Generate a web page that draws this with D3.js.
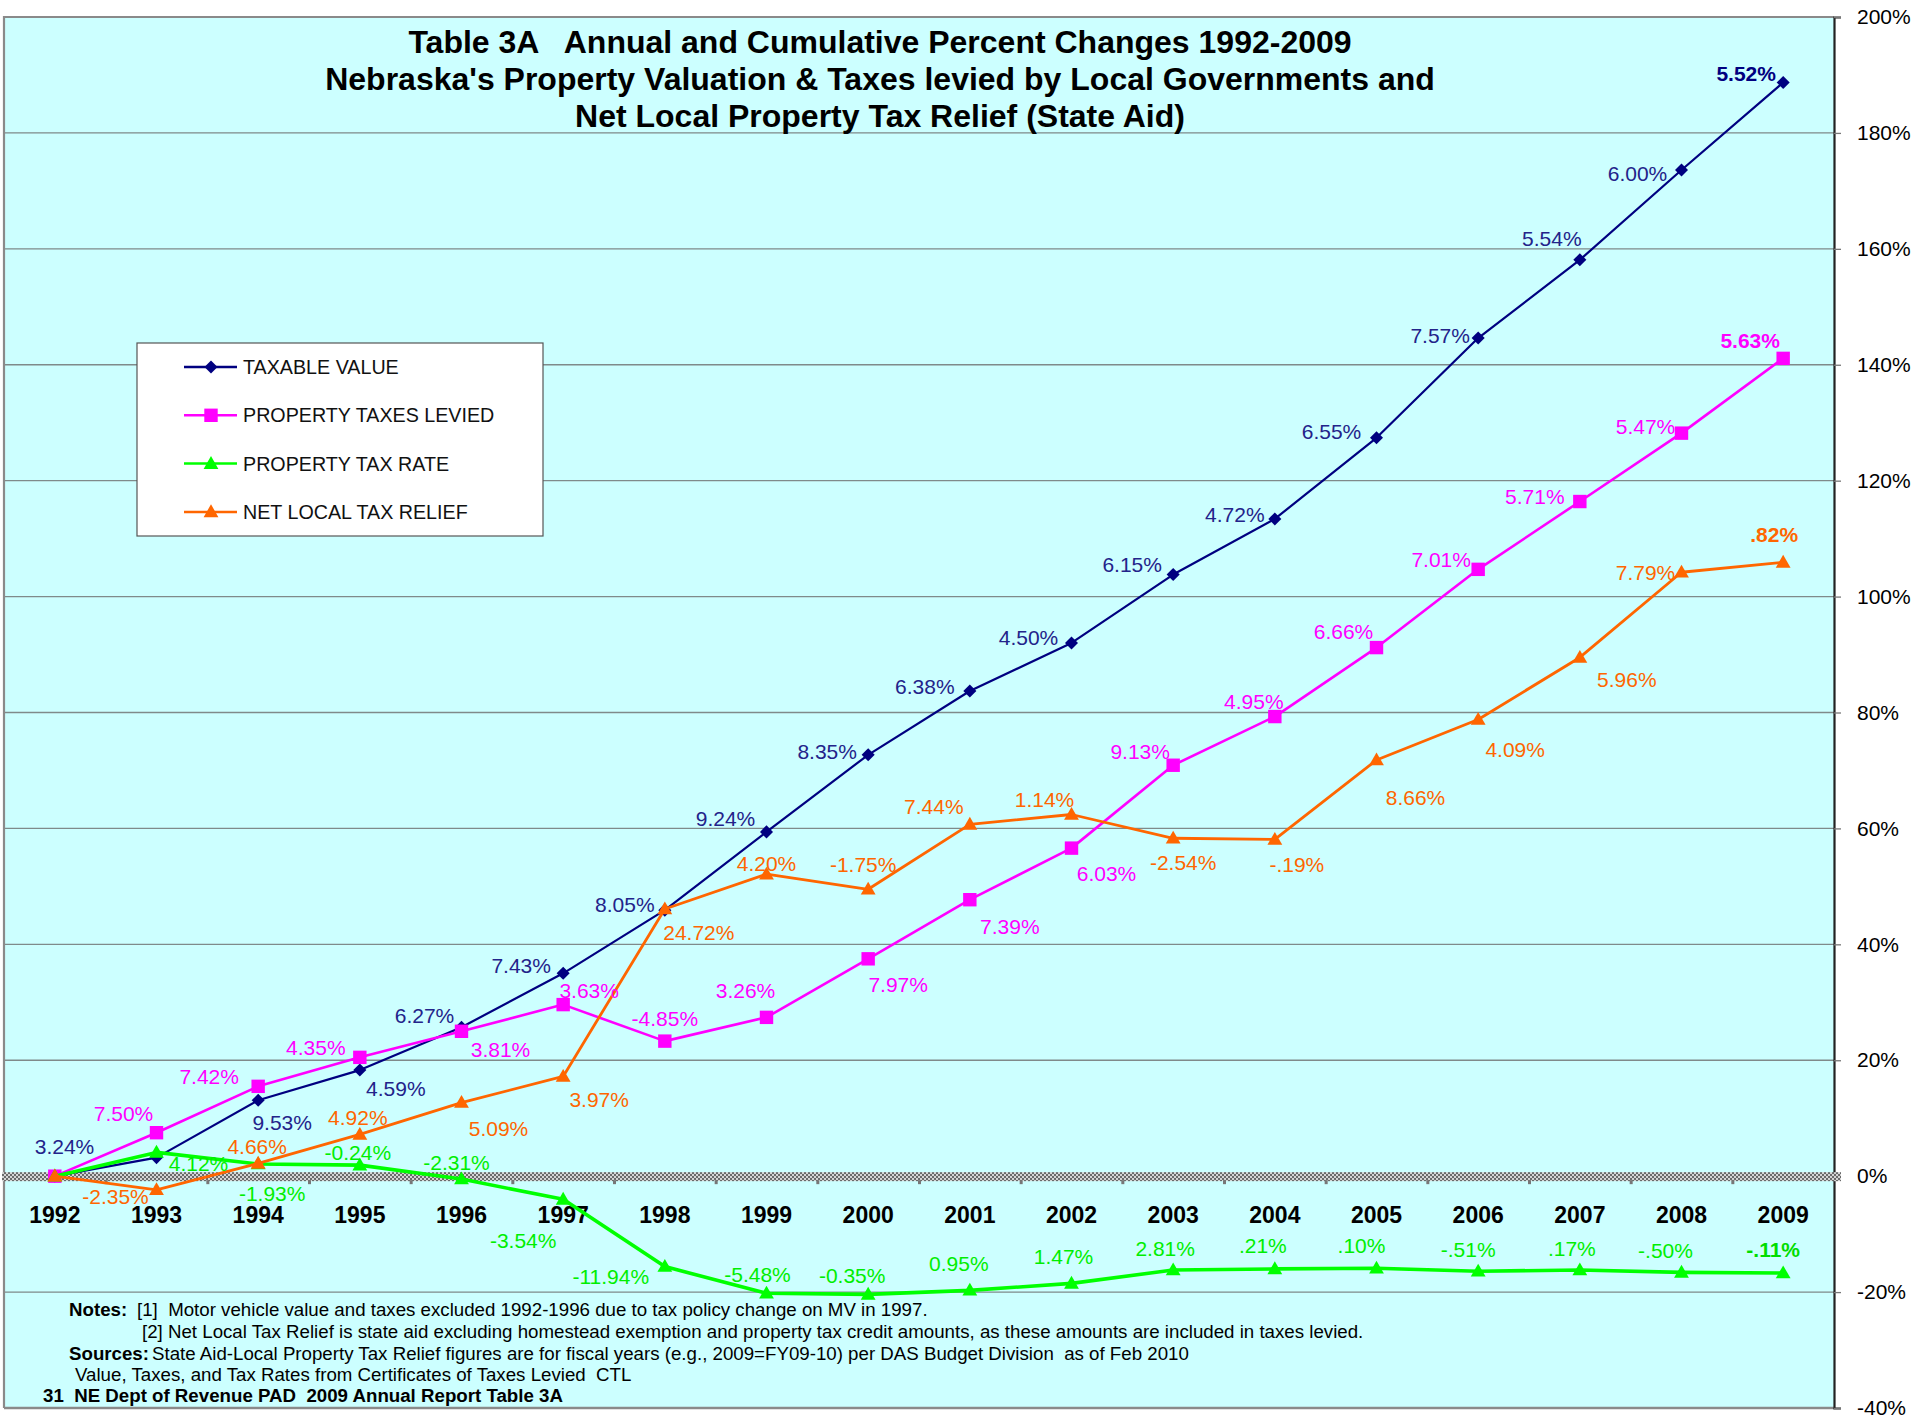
<!DOCTYPE html>
<html>
<head>
<meta charset="utf-8">
<script src="https://cdn.jsdelivr.net/npm/d3@7"></script>
<style>
  html, body { margin: 0; padding: 0; background: #ffffff; }
  svg { display: block; }
  text { font-family: "Liberation Sans", Arial, sans-serif; }
</style>
</head>
<body>
<svg id="chart" width="1931" height="1418"></svg>
<script>
// ---------------- DATA ----------------
const years = ["1992","1993","1994","1995","1996","1997","1998","1999","2000",
               "2001","2002","2003","2004","2005","2006","2007","2008","2009"];

// cumulative percent change since 1992
const taxableValue = [0, 3.2, 13.1, 18.3, 25.7, 35.0, 45.9, 59.4, 72.7, 83.7,
                      92.0, 103.8, 113.4, 127.4, 144.6, 158.1, 173.6, 188.7];
const taxesLevied  = [0, 7.5, 15.5, 20.5, 25.0, 29.6, 23.3, 27.4, 37.5, 47.7,
                      56.6, 70.9, 79.3, 91.2, 104.7, 116.4, 128.2, 141.1];
const taxRate      = [0, 4.1, 2.1, 1.9, -0.5, -4.0, -15.6, -20.2, -20.4, -19.7,
                      -18.5, -16.2, -16.0, -15.9, -16.4, -16.2, -16.6, -16.7];
const taxRelief    = [0, -2.35, 2.2, 7.2, 12.7, 17.2, 46.1, 52.1, 49.5, 60.7,
                      62.4, 58.3, 58.1, 71.8, 78.8, 89.5, 104.2, 105.9];

// annual percent change labels
const taxableValueLabels = ["", "3.24%", "9.53%", "4.59%", "6.27%", "7.43%", "8.05%", "9.24%", "8.35%",
                            "6.38%", "4.50%", "6.15%", "4.72%", "6.55%", "7.57%", "5.54%", "6.00%", "5.52%"];
const taxesLeviedLabels  = ["", "7.50%", "7.42%", "4.35%", "3.81%", "3.63%", "-4.85%", "3.26%", "7.97%",
                            "7.39%", "6.03%", "9.13%", "4.95%", "6.66%", "7.01%", "5.71%", "5.47%", "5.63%"];
const taxRateLabels      = ["", "4.12%", "-1.93%", "-0.24%", "-2.31%", "-3.54%", "-11.94%", "-5.48%", "-0.35%",
                            "0.95%", "1.47%", "2.81%", ".21%", ".10%", "-.51%", ".17%", "-.50%", "-.11%"];
const taxReliefLabels    = ["", "-2.35%", "4.66%", "4.92%", "5.09%", "3.97%", "24.72%", "4.20%", "-1.75%",
                            "7.44%", "1.14%", "-2.54%", "-.19%", "8.66%", "4.09%", "5.96%", "7.79%", ".82%"];

const seriesNames = ["TAXABLE VALUE", "PROPERTY TAXES LEVIED", "PROPERTY TAX RATE", "NET LOCAL TAX RELIEF"];

const yTickValues = [-40, -20, 0, 20, 40, 60, 80, 100, 120, 140, 160, 180, 200];

const titleLines = [
  "Table 3A   Annual and Cumulative Percent Changes 1992-2009",
  "Nebraska's Property Valuation & Taxes levied by Local Governments and",
  "Net Local Property Tax Relief (State Aid)"
];

// ---------------- LAYOUT (label offsets in px, relative to each marker) ----------------
const tvOffsets = [[0,0],[-92,-11],[24,22],[36,18],[-37,-12],[-42,-8],[-40,-6],[-41,-13],[-41,-3],
                   [-45,-5],[-43,-5],[-41,-10],[-40,-4],[-45,-6],[-38,-3],[-28,-21],[-44,3],[-37,-9]];
const tlOffsets = [[0,0],[-33,-19],[-49,-10],[-44,-10],[39,18],[26,-14],[0,-23],[-21,-27],[30,26],
                   [40,27],[35,25],[-33,-14],[-21,-15],[-33,-16],[-37,-10],[-45,-5],[-36,-7],[-33,-18]];
const trOffsets = [[0,0],[42,11],[14,30],[-2,-13],[-5,-17],[-40,41],[-54,10],[-9,-19],[-16,-19],
                   [-11,-27],[-8,-27],[-8,-22],[-12,-23],[-15,-23],[-10,-22],[-8,-22],[-16,-22],[-10,-23]];
const rlOffsets = [[0,0],[-41,7],[-1,-17],[-2,-17],[37,26],[36,23],[34,24],[0,-11],[-5,-25],
                   [-36,-18],[-27,-15],[10,24],[22,25],[39,37],[37,30],[47,22],[-36,0],[-9,-28]];

const series = [
  {name: seriesNames[0], values: taxableValue, labels: taxableValueLabels, offsets: tvOffsets,
   color: "#000080", labelColor: "#23238a", lastLabelColor: "#000080", width: 2.2, marker: "diamond"},
  {name: seriesNames[1], values: taxesLevied, labels: taxesLeviedLabels, offsets: tlOffsets,
   color: "#FF00FF", labelColor: "#FF00FF", lastLabelColor: "#FF00FF", width: 2.6, marker: "square"},
  {name: seriesNames[2], values: taxRate, labels: taxRateLabels, offsets: trOffsets,
   color: "#00FF00", labelColor: "#00EE00", lastLabelColor: "#00DD00", width: 3.6, marker: "triangle"},
  {name: seriesNames[3], values: taxRelief, labels: taxReliefLabels, offsets: rlOffsets,
   color: "#FF6600", labelColor: "#FF6600", lastLabelColor: "#FF6600", width: 2.8, marker: "triangle"}
];

// ---------------- CHART ----------------
const svg = d3.select("#chart");
const plot = {left: 4, right: 1834, top: 17, bottom: 1408};

const x = d3.scaleBand().domain(years).range([plot.left, plot.right]).padding(0);
const y = d3.scaleLinear().domain([-40, 200]).range([plot.bottom, plot.top]);
const cx = d => x(d) + x.bandwidth() / 2;

const defs = svg.append("defs");
const pat = defs.append("pattern").attr("id", "hatch")
  .attr("width", 4).attr("height", 4).attr("patternUnits", "userSpaceOnUse");
pat.append("rect").attr("width", 4).attr("height", 4).attr("fill", "#d4d4d4");
pat.append("rect").attr("x", 0).attr("y", 0).attr("width", 2).attr("height", 2).attr("fill", "#6a6a6a");
pat.append("rect").attr("x", 2).attr("y", 2).attr("width", 2).attr("height", 2).attr("fill", "#6a6a6a");

svg.append("rect").attr("width", 1931).attr("height", 1418).attr("fill", "#ffffff");

// plot background
svg.append("rect")
  .attr("x", plot.left).attr("y", plot.top)
  .attr("width", plot.right - plot.left).attr("height", plot.bottom - plot.top)
  .attr("fill", "#CCFFFF");

// gridlines
svg.append("g").selectAll("line")
  .data(yTickValues.filter(v => v !== 0 && v !== -40 && v !== 200))
  .join("line")
  .attr("x1", plot.left).attr("x2", plot.right)
  .attr("y1", d => y(d)).attr("y2", d => y(d))
  .attr("stroke", "#7f8a8a").attr("stroke-width", 1.3);

// frame: left, top, bottom
svg.append("path")
  .attr("d", `M${plot.left},${plot.bottom} L${plot.left},${plot.top} L${plot.right},${plot.top}`)
  .attr("fill", "none").attr("stroke", "#8a8a8a").attr("stroke-width", 2.2);
svg.append("line")
  .attr("x1", plot.left).attr("x2", plot.right).attr("y1", plot.bottom).attr("y2", plot.bottom)
  .attr("stroke", "#8a8a8a").attr("stroke-width", 2.5);

// right axis
const yAxis = d3.axisRight(y).tickValues(yTickValues).tickFormat(d => d + "%")
  .tickSize(7).tickPadding(16);
const gy = svg.append("g").attr("transform", `translate(${plot.right},0)`).call(yAxis);
gy.select(".domain").attr("stroke", "#222").attr("stroke-width", 2.2);
gy.selectAll(".tick line").attr("stroke", "#777").attr("stroke-width", 1.3);
gy.selectAll(".tick text").attr("font-size", 21).attr("fill", "#000")
  .attr("font-family", "'Liberation Sans', Arial, sans-serif");

// zero line (hatched band) and category tick stubs
svg.append("rect")
  .attr("x", plot.left - 2).attr("y", y(0) - 4)
  .attr("width", plot.right - plot.left + 9).attr("height", 9)
  .attr("fill", "url(#hatch)");
svg.append("g").selectAll("rect")
  .data(years.slice(1))
  .join("rect")
  .attr("x", d => x(d) - 1).attr("y", y(0) + 4)
  .attr("width", 3).attr("height", 4)
  .attr("fill", "#777");

// x axis labels
const xAxis = d3.axisBottom(x).tickSize(0).tickPadding(31);
const gx = svg.append("g").attr("transform", `translate(0,${y(0)})`).call(xAxis);
gx.select(".domain").remove();
gx.selectAll(".tick text").attr("font-size", 23).attr("font-weight", "bold").attr("fill", "#000")
  .attr("font-family", "'Liberation Sans', Arial, sans-serif");

// marker generator
function markerPath(type) {
  if (type === "diamond") return d3.symbol().type(d3.symbolSquare).size(85)();
  if (type === "square") return d3.symbol().type(d3.symbolSquare).size(180)();
  return d3.symbol().type(d3.symbolTriangle).size(95)();
}
function markerTransform(type, px, py) {
  if (type === "diamond") return `translate(${px},${py}) rotate(45)`;
  if (type === "triangle") return `translate(${px},${py + 1})`;
  return `translate(${px},${py})`;
}

const line = d3.line().x((d, i) => cx(years[i])).y(d => y(d));

series.forEach(s => {
  const g = svg.append("g");
  g.append("path").datum(s.values)
    .attr("d", line).attr("fill", "none")
    .attr("stroke", s.color).attr("stroke-width", s.width)
    .attr("stroke-linejoin", "round");
  g.selectAll("path.mk").data(s.values).join("path")
    .attr("class", "mk")
    .attr("d", markerPath(s.marker))
    .attr("transform", (d, i) => markerTransform(s.marker, cx(years[i]), y(d)))
    .attr("fill", s.color);
});

// data labels
series.forEach(s => {
  const n = s.values.length;
  const items = s.values.map((v, i) => ({v, i, year: years[i], label: s.labels[i], off: s.offsets[i]}))
    .filter(o => o.label !== "");
  svg.append("g").selectAll("text").data(items).join("text")
    .attr("x", o => cx(o.year) + o.off[0])
    .attr("y", o => y(o.v) + o.off[1])
    .attr("text-anchor", "middle")
    .attr("dominant-baseline", "central")
    .attr("font-size", 21)
    .attr("font-weight", o => o.i === n - 1 ? "bold" : "normal")
    .attr("fill", o => o.i === n - 1 ? s.lastLabelColor : s.labelColor)
    .text(o => o.label);
});

// title
svg.append("g").selectAll("text").data(titleLines).join("text")
  .attr("x", 880).attr("y", (d, i) => 53 + i * 37)
  .attr("text-anchor", "middle")
  .attr("font-size", 32).attr("font-weight", "bold").attr("fill", "#000")
  .style("white-space", "pre")
  .text(d => d);

// legend
const lg = svg.append("g");
lg.append("rect").attr("x", 137).attr("y", 343).attr("width", 406).attr("height", 193)
  .attr("fill", "#ffffff").attr("stroke", "#555").attr("stroke-width", 1.2);
series.forEach((s, i) => {
  const ly = 367 + i * 48.3;
  lg.append("line").attr("x1", 184).attr("x2", 237).attr("y1", ly).attr("y2", ly)
    .attr("stroke", s.color).attr("stroke-width", 2.5);
  lg.append("path").attr("d", markerPath(s.marker))
    .attr("transform", markerTransform(s.marker, 211, ly)).attr("fill", s.color);
  lg.append("text").attr("x", 243).attr("y", ly).attr("dominant-baseline", "central")
    .attr("font-size", 19.7).attr("fill", "#111").text(s.name);
});

// notes
const notes = svg.append("g").attr("font-size", 18.7).attr("fill", "#000");
notes.append("text").attr("x", 69).attr("y", 1316).attr("font-weight", "bold").text("Notes:");
notes.append("text").attr("x", 137).attr("y", 1316).style("white-space", "pre")
  .text("[1]  Motor vehicle value and taxes excluded 1992-1996 due to tax policy change on MV in 1997.");
notes.append("text").attr("x", 142).attr("y", 1338)
  .text("[2] Net Local Tax Relief is state aid excluding homestead exemption and property tax credit amounts, as these amounts are included in taxes levied.");
notes.append("text").attr("x", 69).attr("y", 1360).attr("font-weight", "bold").text("Sources:");
notes.append("text").attr("x", 152).attr("y", 1360).style("white-space", "pre")
  .text("State Aid-Local Property Tax Relief figures are for fiscal years (e.g., 2009=FY09-10) per DAS Budget Division  as of Feb 2010");
notes.append("text").attr("x", 75).attr("y", 1381).style("white-space", "pre")
  .text("Value, Taxes, and Tax Rates from Certificates of Taxes Levied  CTL");
notes.append("text").attr("x", 43).attr("y", 1402).attr("font-weight", "bold").style("white-space", "pre")
  .text("31  NE Dept of Revenue PAD  2009 Annual Report Table 3A");
</script>
</body>
</html>
